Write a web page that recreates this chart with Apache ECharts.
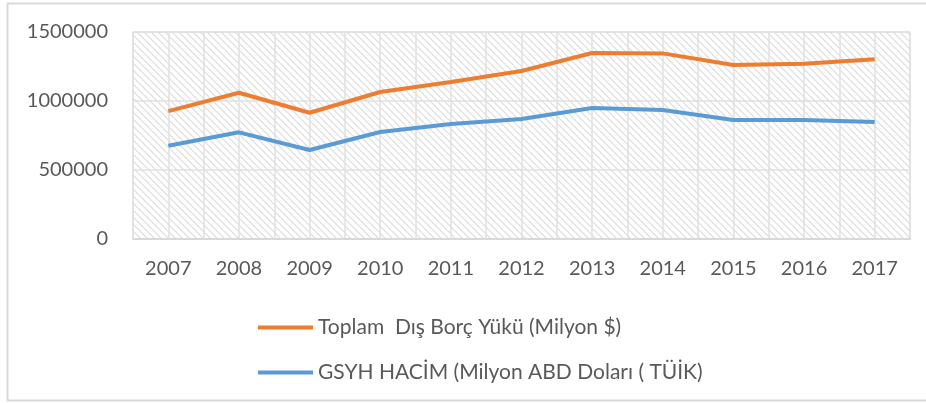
<!DOCTYPE html>
<html>
<head>
<meta charset="utf-8">
<script src="https://cdn.jsdelivr.net/npm/echarts@6/dist/echarts.min.js"></script>
<style>
html,body{margin:0;padding:0;background:#fff;}
#main{width:926px;height:403px;}
</style>
</head>
<body>
<div id="main"></div>
<script>
// veriler
var years = ['2007','2008','2009','2010','2011','2012','2013','2014','2015','2016','2017'];
var disBorc = [927000,1060000,915000,1065000,1138000,1217000,1348000,1345000,1261000,1270000,1302000];
var gsyh = [676000,773000,645000,775000,833000,870000,950000,935000,862000,862000,848000];
var yTicks = [0,500000,1000000,1500000];
var borcName = 'Toplam  Dış Borç Yükü (Milyon $)';
var gsyhName = 'GSYH HACİM (Milyon ABD Doları ( TÜİK)';

// tarama deseni
var cv = document.createElement('canvas');
cv.width = 7; cv.height = 7;
var cx = cv.getContext('2d');
cx.fillStyle = '#ffffff';
cx.fillRect(0,0,7,7);
cx.strokeStyle = '#dcdcdc';
cx.lineWidth = 1.2;
cx.beginPath();
cx.moveTo(-1,-1); cx.lineTo(8,8);
cx.moveTo(-1,6); cx.lineTo(1,8);
cx.moveTo(6,-1); cx.lineTo(8,1);
cx.stroke();

// yarım kategoriler (ara ızgara çizgileri için)
var halfCats = [];
for (var i = 0; i < years.length * 2; i++) halfCats.push('h' + i);

var chart = echarts.init(document.getElementById('main'));
chart.setOption({
    animation: false,
    textStyle: {fontFamily: 'Lato', color: '#595959'},
    graphic: [{
        type: 'rect',
        shape: {x: 7.5, y: 3.5, width: 940, height: 397},
        style: {fill: 'none', stroke: '#d9d9d9', lineWidth: 2},
        silent: true
    }],
    grid: {
        left: 133, top: 32, right: 16, bottom: 164,
        show: true,
        backgroundColor: {image: cv, repeat: 'repeat'},
        borderColor: '#d9d9d9', borderWidth: 1
    },
    legend: {
        orient: 'vertical',
        left: 253, top: 312,
        itemWidth: 55, itemHeight: 4, itemGap: 24,
        icon: 'rect',
        textStyle: {fontSize: 21, color: '#595959', fontFamily: 'Lato'},
        data: [borcName, gsyhName]
    },
    xAxis: [{
        type: 'category',
        data: years,
        boundaryGap: true,
        axisLine: {lineStyle: {color: '#d9d9d9', width: 2}},
        axisTick: {show: false},
        axisLabel: {fontSize: 20, color: '#595959', margin: 20, interval: 0},
        splitLine: {show: false}
    }, {
        type: 'category',
        data: halfCats,
        boundaryGap: true,
        position: 'bottom',
        axisLine: {show: false},
        axisTick: {show: false},
        axisLabel: {show: false},
        splitLine: {show: true, interval: 0, lineStyle: {color: '#e0e0e0', width: 1.5}}
    }],
    yAxis: {
        type: 'value',
        min: yTicks[0], max: yTicks[yTicks.length - 1], interval: yTicks[1] - yTicks[0],
        axisLine: {show: false},
        axisTick: {show: false},
        axisLabel: {fontSize: 20, color: '#595959', margin: 25, formatter: function (v) { return String(v); }},
        splitLine: {lineStyle: {color: '#e0e0e0', width: 1.5}}
    },
    series: [{
        name: borcName,
        type: 'line',
        data: disBorc,
        symbol: 'none',
        lineStyle: {color: '#ED7D31', width: 4},
        itemStyle: {color: '#ED7D31'}
    }, {
        name: gsyhName,
        type: 'line',
        data: gsyh,
        symbol: 'none',
        lineStyle: {color: '#5B9BD5', width: 4},
        itemStyle: {color: '#5B9BD5'}
    }]
});
</script>
</body>
</html>
